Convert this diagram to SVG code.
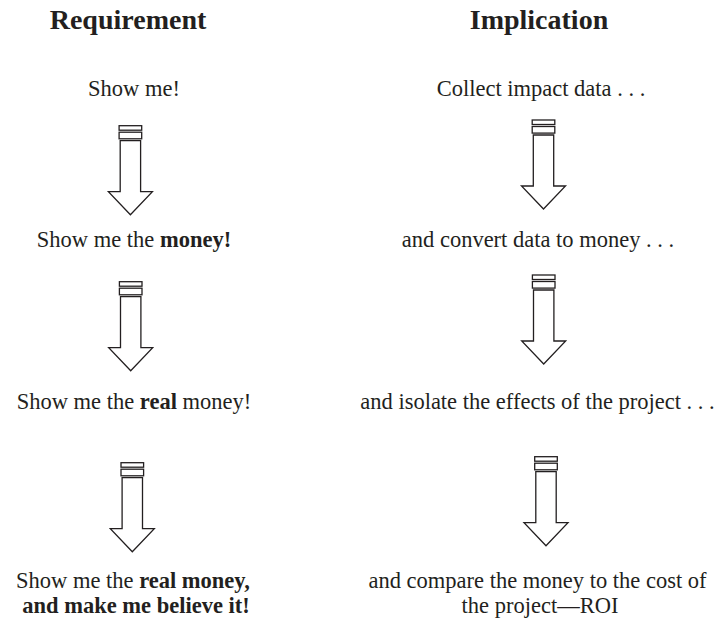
<svg xmlns="http://www.w3.org/2000/svg" xmlns:xlink="http://www.w3.org/1999/xlink" width="722" height="624" viewBox="0 0 722 624">
<style>
  text { font-family: "Liberation Serif", "Times New Roman", serif; fill: #231f20; text-anchor: middle; }
  .h { font-size: 28px; font-weight: bold; }
  .t { font-size: 22.5px; }
  .b { font-weight: bold; }
  .arr rect, .arr polygon { fill: #ffffff; stroke: #231f20; stroke-width: 1.3; stroke-linejoin: miter; }
</style>
<defs>
  <g id="arrow" class="arr">
    <rect x="-11.3" y="0" width="22.6" height="4.5"/>
    <rect x="-11.3" y="6.5" width="22.6" height="6.6"/>
    <polygon points="-10.2,15 10.2,15 10.2,66 22,66 0,89 -22,66 -10.2,66"/>
  </g>
</defs>
<g id="headings">
  <text class="h" x="128" y="29">Requirement</text>
  <text class="h" x="539" y="29">Implication</text>
</g>
<g id="req1"><text class="t" x="134" y="96">Show me!</text></g>
<g id="req2"><text class="t" x="134" y="247">Show me the <tspan class="b">money!</tspan></text></g>
<g id="req3"><text class="t" x="134" y="409">Show me the <tspan class="b">real</tspan> money!</text></g>
<g id="req4">
  <text class="t" x="133" y="588">Show me the <tspan class="b">real money,</tspan></text>
  <text class="t b" x="136" y="613">and make me believe it!</text>
</g>
<g id="imp1"><text class="t" x="541" y="96">Collect impact data . . .</text></g>
<g id="imp2"><text class="t" x="538" y="247">and convert data to money . . .</text></g>
<g id="imp3"><text class="t" x="537.5" y="409">and isolate the effects of the project . . .</text></g>
<g id="imp4">
  <text class="t" x="537.5" y="588">and compare the money to the cost of</text>
  <text class="t" x="540" y="613">the project—ROI</text>
</g>
<g id="connectors">
  <use xlink:href="#arrow" href="#arrow" x="130.4" y="125.7"/>
  <use xlink:href="#arrow" href="#arrow" x="130.7" y="281.7"/>
  <use xlink:href="#arrow" href="#arrow" x="132.3" y="462.7"/>
  <use xlink:href="#arrow" href="#arrow" x="543.5" y="120"/>
  <use xlink:href="#arrow" href="#arrow" x="543.7" y="275"/>
  <use xlink:href="#arrow" href="#arrow" x="546" y="456.7"/>
</g>
</svg>
